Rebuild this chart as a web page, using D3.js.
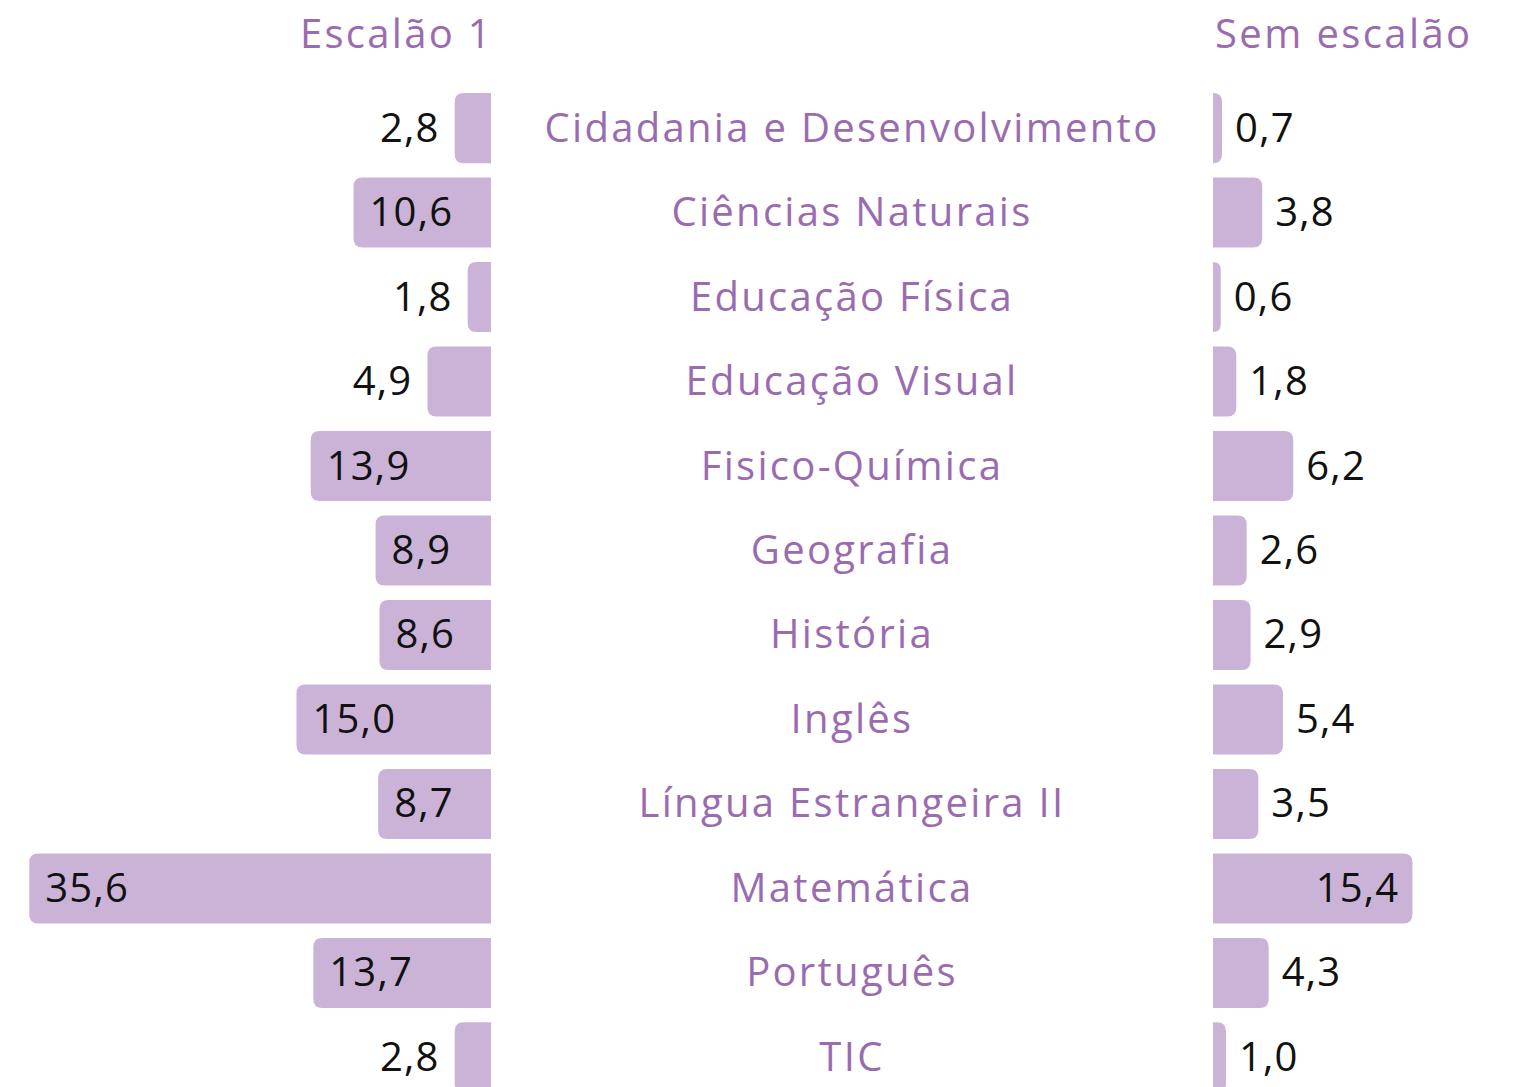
<!DOCTYPE html>
<html><head><meta charset="utf-8">
<script src="https://cdn.jsdelivr.net/npm/d3@7"></script>
<style>body{margin:0;background:#fff;}svg{display:block;}</style>
</head><body>
<script>
const categories = ["Cidadania e Desenvolvimento","Ciências Naturais","Educação Física","Educação Visual","Fisico-Química","Geografia","História","Inglês","Língua Estrangeira II","Matemática","Português","TIC"];
const escalao1 = [2.8,10.6,1.8,4.9,13.9,8.9,8.6,15.0,8.7,35.6,13.7,2.8];
const semEscalao = [0.7,3.8,0.6,1.8,6.2,2.6,2.9,5.4,3.5,15.4,4.3,1.0];
const seriesTitles = ["Escalão 1","Sem escalão"];

const W=1514,H=1087;
const barColor="#cbb3d7", purple="#9b6bb0", font="'Open Sans', sans-serif", fs=40;
const svg=d3.select("body").append("svg").attr("width",W).attr("height",H);

const y=d3.scaleBand().domain(categories).range([93,1092.5]).paddingInner(0.17).paddingOuter(0);
const xL=d3.scaleLinear().domain([0,36]).range([491,491-36*12.97]);
const xR=d3.scaleLinear().domain([0,16]).range([1213,1213+16*12.95]);
const fmt=v=>d3.format(".1f")(v).replace(".",",");

function barPath(x0,x1,y0,h,r){
  const w=Math.abs(x1-x0); r=Math.min(r,w,h/2);
  const dir=x1>x0?1:-1;
  return `M${x0},${y0} L${x1-dir*r},${y0} Q${x1},${y0} ${x1},${y0+r} L${x1},${y0+h-r} Q${x1},${y0+h} ${x1-dir*r},${y0+h} L${x0},${y0+h} Z`;
}

svg.append("text").attr("x",493).attr("y",48).attr("text-anchor","end").attr("font-family",font).attr("font-size",fs).attr("letter-spacing",2.3).attr("fill",purple).text(seriesTitles[0]);
svg.append("text").attr("x",1215).attr("y",48).attr("text-anchor","start").attr("font-family",font).attr("font-size",fs).attr("letter-spacing",2.4).attr("fill",purple).text(seriesTitles[1]);

const rows=categories.map((c,i)=>({c,l:escalao1[i],r:semEscalao[i]}));
const g=svg.selectAll("g.row").data(rows).join("g").attr("class","row");

g.append("path").attr("fill",barColor).attr("d",d=>barPath(xL(0),xL(d.l),y(d.c),y.bandwidth(),9));
g.append("path").attr("fill",barColor).attr("d",d=>barPath(xR(0),xR(d.r),y(d.c),y.bandwidth(),9));

g.append("text").attr("font-family",font).attr("font-size",fs).attr("fill","#111").attr("letter-spacing",1.2)
 .attr("dominant-baseline","central")
 .attr("y",d=>y(d.c)+y.bandwidth()/2-2)
 .attr("x",d=>d.l>5?xL(d.l)+16:xL(d.l)-15)
 .attr("text-anchor",d=>d.l>5?"start":"end")
 .text(d=>fmt(d.l));

g.append("text").attr("font-family",font).attr("font-size",fs).attr("fill","#111").attr("letter-spacing",1.2)
 .attr("dominant-baseline","central")
 .attr("y",d=>y(d.c)+y.bandwidth()/2-2)
 .attr("x",d=>d.r>10?xR(d.r)-13:xR(d.r)+13)
 .attr("text-anchor",d=>d.r>10?"end":"start")
 .text(d=>fmt(d.r));

g.append("text").attr("font-family",font).attr("font-size",fs).attr("fill",purple).attr("letter-spacing",2.3)
 .attr("dominant-baseline","central").attr("text-anchor","middle")
 .attr("x",852).attr("y",d=>y(d.c)+y.bandwidth()/2-2)
 .text(d=>d.c);
</script>
</body></html>
